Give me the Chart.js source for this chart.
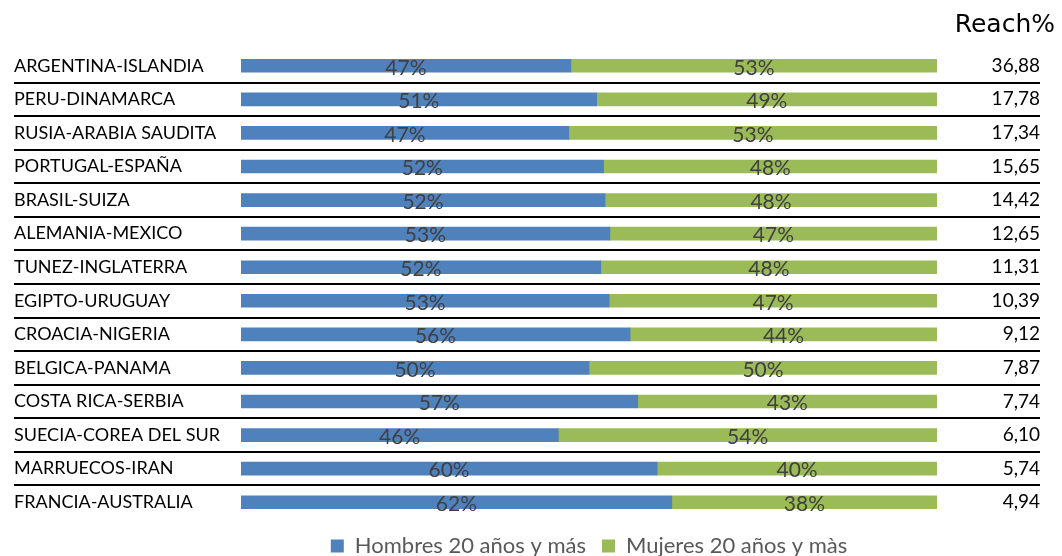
<!DOCTYPE html>
<html>
<head>
<meta charset="utf-8">
<script src="https://cdn.jsdelivr.net/npm/chart.js@4.4.1/dist/chart.umd.min.js"></script>
<style>
  html, body { margin: 0; padding: 0; background: #fff; }
  #wrap { width: 1062px; height: 556px; }
</style>
</head>
<body>
<div id="wrap"><canvas id="reachChart"></canvas></div>
<script>
const matches = [
    'ARGENTINA-ISLANDIA', 'PERU-DINAMARCA', 'RUSIA-ARABIA SAUDITA', 'PORTUGAL-ESPAÑA',
    'BRASIL-SUIZA', 'ALEMANIA-MEXICO', 'TUNEZ-INGLATERRA', 'EGIPTO-URUGUAY',
    'CROACIA-NIGERIA', 'BELGICA-PANAMA', 'COSTA RICA-SERBIA', 'SUECIA-COREA DEL SUR',
    'MARRUECOS-IRAN', 'FRANCIA-AUSTRALIA'
];
const hombres = [47.4, 51.1, 47.1, 52.1, 52.3, 53.0, 51.7, 52.9, 55.9, 50.0, 57.0, 45.6, 59.8, 61.9];
const mujeres = [52.6, 48.9, 52.9, 47.9, 47.7, 47.0, 48.3, 47.1, 44.1, 50.0, 43.0, 54.4, 40.2, 38.1];
const reach = ['36,88', '17,78', '17,34', '15,65', '14,42', '12,65', '11,31', '10,39',
    '9,12', '7,87', '7,74', '6,10', '5,74', '4,94'];

const FONT = 'Lato, "Noto Sans", sans-serif';

// value labels inside the bars
const barLabels = {
    id: 'barLabels',
    afterDatasetsDraw(chart) {
        const ctx = chart.ctx;
        ctx.save();
        ctx.font = '21px ' + FONT;
        ctx.fillStyle = '#404040';
        ctx.textAlign = 'center';
        ctx.textBaseline = 'middle';
        chart.data.datasets.forEach((ds, di) => {
            chart.getDatasetMeta(di).data.forEach((bar, i) => {
                ctx.fillText(Math.round(ds.data[i]) + '%', (bar.x + bar.base) / 2, bar.y + 2);
            });
        });
        ctx.restore();
    }
};

// black rules between rows + "Reach%" heading over the right column
const rowLines = {
    id: 'rowLines',
    beforeDatasetsDraw(chart) {
        const y = chart.scales.y, y2 = chart.scales.y2;
        const ctx = chart.ctx;
        ctx.save();
        ctx.strokeStyle = '#000';
        ctx.lineWidth = 2;
        for (let i = 1; i < matches.length; i++) {
            const py = Math.round((y.getPixelForValue(i - 1) + y.getPixelForValue(i)) / 2);
            ctx.beginPath();
            ctx.moveTo(y.left, py);
            ctx.lineTo(y2.right, py);
            ctx.stroke();
        }
        ctx.font = '25px "DejaVu Sans", sans-serif';
        ctx.fillStyle = '#000';
        ctx.textAlign = 'right';
        ctx.textBaseline = 'alphabetic';
        ctx.fillText('Reach%', y2.right + 15, chart.chartArea.top - 17);
        ctx.restore();
    }
};

new Chart(document.getElementById('reachChart'), {
    type: 'bar',
    data: {
        labels: matches,
        datasets: [{
            label: 'Hombres 20 años y más',
            data: hombres,
            backgroundColor: '#4F81BD',
            barThickness: 13
        }, {
            label: 'Mujeres 20 años y màs',
            data: mujeres,
            backgroundColor: '#9BBB59',
            barThickness: 13
        }]
    },
    options: {
        indexAxis: 'y',
        responsive: true,
        maintainAspectRatio: false,
        animation: false,
        layout: { padding: { left: 14, right: 22, top: 49, bottom: -11 } },
        scales: {
            x: { stacked: true, min: 0, max: 100, display: false },
            y: {
                stacked: true,
                grid: { display: false },
                border: { display: false },
                ticks: { crossAlign: 'far', color: '#000', font: { family: FONT, size: 18 } },
                afterFit(s) { s.width = 227; }
            },
            y2: {
                type: 'category',
                position: 'right',
                labels: reach,
                grid: { display: false },
                border: { display: false },
                ticks: { crossAlign: 'far', color: '#000', font: { family: FONT, size: 19 } },
                afterFit(s) { s.width = 103; }
            }
        },
        plugins: {
            legend: {
                position: 'bottom',
                fullSize: false,
                labels: {
                    color: '#595959',
                    font: { family: FONT, size: 22 },
                    boxWidth: 13,
                    boxHeight: 13,
                    padding: 16
                }
            },
            tooltip: { enabled: false }
        }
    },
    plugins: [rowLines, barLabels]
});
</script>
</body>
</html>
